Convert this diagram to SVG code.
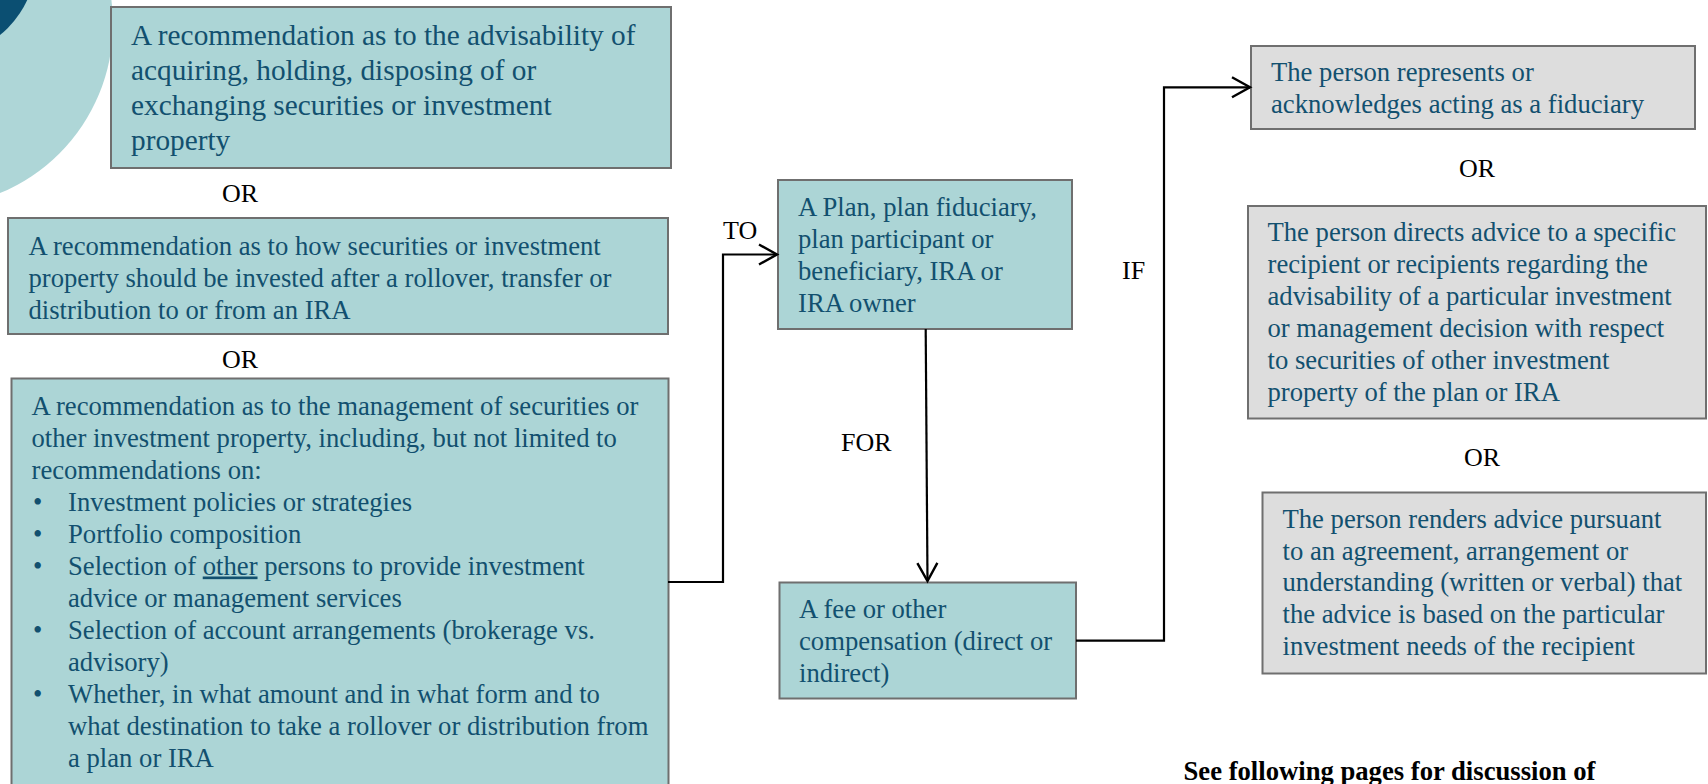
<svg xmlns="http://www.w3.org/2000/svg" width="1708" height="784" viewBox="0 0 1708 784">
<style>
  .box { fill: #acd5d6; stroke: #6f6f6f; stroke-width: 2; }
  .gbox { fill: #dddddd; stroke: #6f6f6f; stroke-width: 2; }
  .t { font-family: "Liberation Serif", "Times New Roman", serif; font-size: 26.67px; fill: #12506f; }
  .t1 { font-family: "Liberation Serif", "Times New Roman", serif; font-size: 29.3px; fill: #12506f; }
  .lbl { font-family: "Liberation Serif", "Times New Roman", serif; font-size: 26px; fill: #000000; }
  .note { font-family: "Liberation Serif", "Times New Roman", serif; font-size: 26.67px; font-weight: bold; fill: #000000; }
  .conn { fill: none; stroke: #000000; stroke-width: 2.2; }
</style>
<defs>
  <marker id="arr" markerUnits="userSpaceOnUse" markerWidth="24" markerHeight="24" refX="18" refY="10" orient="auto" overflow="visible">
    <path d="M0,0 L18,10 L0,20" fill="none" stroke="#000000" stroke-width="2.4"/>
  </marker>
</defs>
<rect width="1708" height="784" fill="#ffffff"/>
<g id="decor">
  <circle cx="-70" cy="24" r="183" fill="#aed6d7"/>
  <circle cx="-60" cy="-40" r="96" fill="#0b4f72"/>
</g>

<g id="node-acquire">
  <rect class="box" x="111" y="7" width="560" height="161"/>
  <text class="t1" x="131" y="44.5">A recommendation as to the advisability of</text>
  <text class="t1" x="131" y="79.5">acquiring, holding, disposing of or</text>
  <text class="t1" x="131" y="114.5">exchanging securities or investment</text>
  <text class="t1" x="131" y="149.5">property</text>
</g>
<text class="lbl" x="240" y="202" text-anchor="middle">OR</text>

<g id="node-rollover">
  <rect class="box" x="8" y="218" width="660" height="116"/>
  <text class="t" x="28.5" y="254.5">A recommendation as to how securities or investment</text>
  <text class="t" x="28.5" y="286.5">property should be invested after a rollover, transfer or</text>
  <text class="t" x="28.5" y="318.5">distribution to or from an IRA</text>
</g>
<text class="lbl" x="240" y="368" text-anchor="middle">OR</text>

<g id="node-management">
  <rect class="box" x="11.5" y="378.5" width="657" height="420"/>
  <text class="t" x="31.5" y="414.5">A recommendation as to the management of securities or</text>
  <text class="t" x="31.5" y="446.5">other investment property, including, but not limited to</text>
  <text class="t" x="31.5" y="478.5">recommendations on:</text>
  <text class="t" x="33" y="510.5">•</text>
  <text class="t" x="68" y="510.5">Investment policies or strategies</text>
  <text class="t" x="33" y="542.5">•</text>
  <text class="t" x="68" y="542.5">Portfolio composition</text>
  <text class="t" x="33" y="574.5">•</text>
  <text class="t" x="68" y="574.5">Selection of <tspan text-decoration="underline">other</tspan> persons to provide investment</text>
  <text class="t" x="68" y="606.5">advice or management services</text>
  <text class="t" x="33" y="638.5">•</text>
  <text class="t" x="68" y="638.5">Selection of account arrangements (brokerage vs.</text>
  <text class="t" x="68" y="670.5">advisory)</text>
  <text class="t" x="33" y="702.5">•</text>
  <text class="t" x="68" y="702.5">Whether, in what amount and in what form and to</text>
  <text class="t" x="68" y="734.5">what destination to take a rollover or distribution from</text>
  <text class="t" x="68" y="766.5">a plan or IRA</text>
</g>

<g id="node-plan">
  <rect class="box" x="778" y="180" width="294" height="149"/>
  <text class="t" x="798" y="216">A Plan, plan fiduciary,</text>
  <text class="t" x="798" y="248">plan participant or</text>
  <text class="t" x="798" y="280">beneficiary, IRA or</text>
  <text class="t" x="798" y="312">IRA owner</text>
</g>

<g id="node-fee">
  <rect class="box" x="779.5" y="582.5" width="296.5" height="116"/>
  <text class="t" x="799" y="618">A fee or other</text>
  <text class="t" x="799" y="650">compensation (direct or</text>
  <text class="t" x="799" y="682">indirect)</text>
</g>

<g id="node-fiduciary">
  <rect class="gbox" x="1251" y="46" width="444" height="83"/>
  <text class="t" x="1271" y="81">The person represents or</text>
  <text class="t" x="1271" y="113">acknowledges acting as a fiduciary</text>
</g>
<text class="lbl" x="1477" y="177" text-anchor="middle">OR</text>

<g id="node-directs">
  <rect class="gbox" x="1248" y="206" width="458" height="212.5"/>
  <text class="t" x="1267.5" y="240.5">The person directs advice to a specific</text>
  <text class="t" x="1267.5" y="272.5">recipient or recipients regarding the</text>
  <text class="t" x="1267.5" y="304.5">advisability of a particular investment</text>
  <text class="t" x="1267.5" y="336.5">or management decision with respect</text>
  <text class="t" x="1267.5" y="368.5">to securities of other investment</text>
  <text class="t" x="1267.5" y="400.5">property of the plan or IRA</text>
</g>
<text class="lbl" x="1482" y="466" text-anchor="middle">OR</text>

<g id="node-agreement">
  <rect class="gbox" x="1262.5" y="492.5" width="443.5" height="181"/>
  <text class="t" x="1282.5" y="528">The person renders advice pursuant</text>
  <text class="t" x="1282.5" y="559.5">to an agreement, arrangement or</text>
  <text class="t" x="1282.5" y="591">understanding (written or verbal) that</text>
  <text class="t" x="1282.5" y="623">the advice is based on the particular</text>
  <text class="t" x="1282.5" y="655">investment needs of the recipient</text>
</g>

<g id="connectors">
  <polyline class="conn" points="668,582 723,582 723,254.5 777,254.5" marker-end="url(#arr)"/>
  <line class="conn" x1="925.7" y1="329" x2="927.5" y2="581" marker-end="url(#arr)"/>
  <polyline class="conn" points="1076,640.7 1164,640.7 1164,87.3 1250,87.3" marker-end="url(#arr)"/>
  <text class="lbl" x="723" y="239">TO</text>
  <text class="lbl" x="841" y="451">FOR</text>
  <text class="lbl" x="1122" y="278.5">IF</text>
</g>

<text class="note" x="1183.5" y="780">See following pages for discussion of</text>
</svg>
